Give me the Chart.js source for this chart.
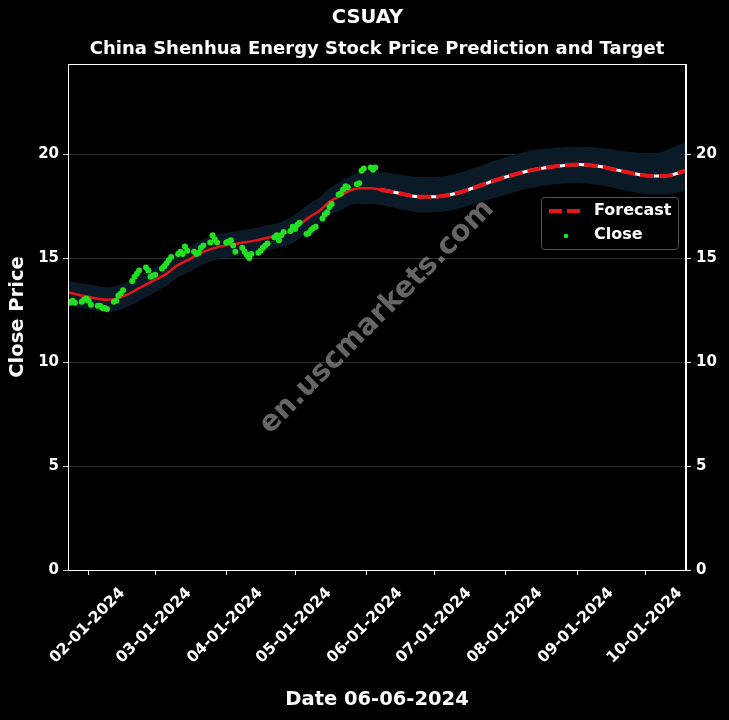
<!DOCTYPE html>
<html>
<head>
<meta charset="utf-8">
<title>CSUAY</title>
<script src="https://cdn.jsdelivr.net/npm/chart.js@4.4.1/dist/chart.umd.min.js"></script>
<style>
  body { margin: 0; background: #000; }
  #wrap { width: 729px; height: 720px; }
</style>
</head>
<body>
<div id="wrap"><canvas id="chart"></canvas></div>
<script>
// x values are day numbers counted from 01-01-2024 (= day 0)
const closeDays = [22, 23, 24, 25, 28, 29, 30, 31, 32, 35, 36, 37, 38, 39, 42, 43, 44, 45, 46, 50, 51, 52, 53,
    56, 57, 58, 59, 60, 63, 64, 65, 66, 67, 70, 71, 72, 73, 74, 77, 78, 79, 80, 81, 84, 85, 86, 87,
    91, 92, 93, 94, 95, 98, 99, 100, 101, 102, 105, 106, 107, 108, 109, 112, 113, 114, 115, 116,
    119, 120, 121, 122, 123, 126, 127, 128, 129, 130, 133, 134, 135, 136, 137, 140, 141, 142, 143, 144,
    148, 149, 150, 151, 154, 155, 156];
const closePrices = [12.9, 12.85, 12.95, 12.85, 12.9, 13.0, 13.05, 12.95, 12.75, 12.7, 12.7, 12.6, 12.6, 12.55,
    12.9, 12.95, 13.2, 13.3, 13.45, 13.9, 14.1, 14.25, 14.4,
    14.55, 14.4, 14.1, 14.15, 14.2, 14.5, 14.6, 14.75, 14.9, 15.05, 15.2, 15.3, 15.2, 15.55, 15.35,
    15.3, 15.2, 15.25, 15.5, 15.6, 15.75, 16.1, 15.9, 15.75,
    15.75, 15.8, 15.85, 15.6, 15.3, 15.5, 15.3, 15.15, 15.0, 15.2, 15.25, 15.35, 15.5, 15.6, 15.7,
    16.0, 16.1, 15.85, 16.1, 16.25,
    16.3, 16.5, 16.4, 16.6, 16.7, 16.15, 16.2, 16.35, 16.45, 16.5, 16.9, 17.1, 17.2, 17.45, 17.6,
    18.05, 18.1, 18.3, 18.45, 18.4,
    18.55, 18.6, 19.2, 19.3, 19.35, 19.25, 19.35];

const forecastDays = [22, 30, 39, 43, 47, 53, 59, 65, 69, 75, 81, 88, 96, 104, 110, 114, 119, 123, 127, 132,
    136, 141, 145, 149, 154, 158, 167, 175, 182, 191, 202, 210, 223, 234, 245, 254, 267, 276, 282, 291.5];
const forecastValues = [13.35, 13.15, 13.0, 13.05, 13.2, 13.55, 13.9, 14.25, 14.6, 14.95, 15.3, 15.55, 15.7,
    15.85, 16.0, 16.1, 16.3, 16.6, 16.95, 17.3, 17.7, 18.0, 18.25, 18.35, 18.35, 18.3, 18.1, 17.95, 17.95,
    18.1, 18.5, 18.8, 19.2, 19.4, 19.5, 19.4, 19.1, 18.95, 18.95, 19.2];
const bandUpper = [13.9, 13.75, 13.6, 13.65, 13.8, 14.15, 14.5, 14.85, 15.2, 15.55, 15.9, 16.15, 16.3,
    16.45, 16.6, 16.7, 16.95, 17.25, 17.6, 17.95, 18.35, 18.7, 18.95, 19.1, 19.15, 19.15, 19.0, 18.9, 18.9,
    19.05, 19.45, 19.75, 20.15, 20.3, 20.35, 20.3, 20.1, 20.05, 20.15, 20.6];
const bandLower = [12.75, 12.55, 12.4, 12.45, 12.6, 12.95, 13.3, 13.65, 14.0, 14.35, 14.7, 14.95, 15.1,
    15.25, 15.4, 15.5, 15.65, 15.95, 16.3, 16.65, 17.05, 17.3, 17.55, 17.6, 17.6, 17.55, 17.35, 17.2, 17.2,
    17.35, 17.7, 17.95, 18.35, 18.55, 18.6, 18.5, 18.2, 18.05, 18.05, 18.25];
const forecastStart = 158;

const xTickDays = [31, 60, 91, 121, 152, 182, 213, 244, 274];
const xTickLabels = ['02-01-2024', '03-01-2024', '04-01-2024', '05-01-2024', '06-01-2024',
    '07-01-2024', '08-01-2024', '09-01-2024', '10-01-2024'];
const yTicks = [0, 5, 10, 15, 20];

const subtitleText = 'China Shenhua Energy Stock Price Prediction and Target';
const fontFamily = "'DejaVu Sans', sans-serif";

function toPoints(xs, ys) {
    return xs.map((x, i) => ({ x: x, y: ys[i] }));
}

const frameAndExtras = {
    id: 'frameAndExtras',
    afterLayout(chart) {
        // centre the subtitle over the plot area, not the whole canvas
        const a = chart.chartArea;
        chart.boxes.forEach(b => {
            if (b.options && b.options.text === subtitleText) {
                b.left = a.left;
                b.right = a.right;
                b.width = a.right - a.left;
            }
        });
    },
    afterDatasetsDraw(chart) {
        const ctx = chart.ctx;
        const a = chart.chartArea;
        // watermark
        ctx.save();
        ctx.translate((a.left + a.right) / 2, (a.top + a.bottom) / 2);
        ctx.rotate(-Math.PI / 4);
        ctx.font = 'bold 29px ' + fontFamily;
        ctx.fillStyle = 'rgba(170,170,170,0.6)';
        ctx.textAlign = 'center';
        ctx.textBaseline = 'middle';
        ctx.fillText('en.uscmarkets.com', 0, 0);
        ctx.restore();
    },
    afterDraw(chart) {
        const ctx = chart.ctx;
        const a = chart.chartArea;
        ctx.save();
        ctx.strokeStyle = '#fff';
        ctx.lineWidth = 1;
        ctx.strokeRect(a.left + 0.5, a.top + 0.5, a.right - a.left - 1, a.bottom - a.top);

        // legend box
        const lx = 541, ly = 197, lw = 137, lh = 52;
        ctx.beginPath();
        ctx.roundRect(lx + 0.5, ly + 0.5, lw, lh, 3);
        ctx.fillStyle = 'rgba(0,0,0,0.8)';
        ctx.fill();
        ctx.strokeStyle = '#555';
        ctx.stroke();

        ctx.beginPath();
        ctx.setLineDash([13, 5]);
        ctx.strokeStyle = '#e8141a';
        ctx.lineWidth = 4;
        ctx.moveTo(549, 211);
        ctx.lineTo(585, 211);
        ctx.stroke();
        ctx.setLineDash([]);

        ctx.beginPath();
        ctx.arc(566, 236, 2.3, 0, Math.PI * 2);
        ctx.fillStyle = '#22e022';
        ctx.fill();

        ctx.font = 'bold 16px ' + fontFamily;
        ctx.fillStyle = '#fff';
        ctx.textBaseline = 'middle';
        ctx.textAlign = 'left';
        ctx.fillText('Forecast', 594, 211);
        ctx.fillText('Close', 594, 235);
        ctx.restore();
    }
};

new Chart(document.getElementById('chart'), {
    type: 'line',
    data: {
        datasets: [
            {
                label: 'Close',
                data: toPoints(closeDays, closePrices),
                showLine: false,
                pointRadius: 3,
                pointBackgroundColor: '#22e022',
                pointBorderWidth: 0
            },
            {
                label: 'Forecast',
                data: toPoints(forecastDays, forecastValues),
                borderColor: '#e8141a',
                borderWidth: 3.5,
                pointRadius: 0,
                cubicInterpolationMode: 'monotone',
                segment: {
                    borderDash: c => c.p0.parsed.x >= forecastStart ? [14, 5] : undefined,
                    borderWidth: c => c.p0.parsed.x >= forecastStart ? 4 : 2.5
                }
            },
            {
                label: 'underlay',
                data: toPoints(forecastDays, forecastValues),
                borderColor: '#fff',
                borderWidth: 3,
                pointRadius: 0,
                cubicInterpolationMode: 'monotone',
                segment: {
                    borderColor: c => c.p0.parsed.x >= forecastStart ? '#fff' : 'rgba(0,0,0,0)'
                }
            },
            {
                label: 'upper',
                data: toPoints(forecastDays, bandUpper),
                borderWidth: 0,
                pointRadius: 0,
                cubicInterpolationMode: 'monotone',
                backgroundColor: '#0a1b27',
                fill: '+1'
            },
            {
                label: 'lower',
                data: toPoints(forecastDays, bandLower),
                borderWidth: 0,
                pointRadius: 0,
                cubicInterpolationMode: 'monotone',
                fill: false
            }
        ]
    },
    options: {
        responsive: true,
        maintainAspectRatio: false,
        animation: false,
        layout: { padding: { left: 6, bottom: 8, right: 0, top: 0 } },
        plugins: {
            legend: { display: false },
            tooltip: { enabled: false },
            title: {
                display: true,
                text: 'CSUAY',
                color: '#fff',
                font: { family: fontFamily, size: 19.5, weight: 'bold' },
                padding: { top: 6.3, bottom: 2 }
            },
            subtitle: {
                display: true,
                text: subtitleText,
                color: '#fff',
                font: { family: fontFamily, size: 18, weight: 'bold' },
                padding: { top: 6.5, bottom: 4.2 }
            }
        },
        scales: {
            x: {
                type: 'linear',
                min: 22,
                max: 291.5,
                afterBuildTicks: s => { s.ticks = xTickDays.map(v => ({ value: v })); },
                afterFit: s => { s.height = 142; },
                ticks: {
                    color: '#fff',
                    font: { family: fontFamily, size: 15.5, weight: 'bold' },
                    minRotation: 45,
                    maxRotation: 45,
                    labelOffset: 34,
                    padding: 9,
                    autoSkip: false,
                    callback: v => xTickLabels[xTickDays.indexOf(v)]
                },
                grid: { drawOnChartArea: false, color: '#fff', tickColor: '#fff', tickLength: 5 },
                border: { color: '#fff' },
                title: {
                    display: true,
                    text: 'Date 06-06-2024',
                    color: '#fff',
                    font: { family: fontFamily, size: 19.5, weight: 'bold' },
                    padding: 0
                }
            },
            y: {
                position: 'left',
                min: 0,
                max: 24.33,
                afterBuildTicks: s => { s.ticks = yTicks.map(v => ({ value: v })); },
                afterFit: s => { s.width = 62; },
                ticks: {
                    color: '#fff',
                    font: { family: fontFamily, size: 15, weight: 'bold' },
                    padding: 4
                },
                grid: { color: '#3c3c3c', lineWidth: 0.8, tickColor: '#fff', tickLength: 5 },
                border: { color: '#fff' },
                title: {
                    display: true,
                    text: 'Close Price',
                    color: '#fff',
                    font: { family: fontFamily, size: 19.5, weight: 'bold' },
                    padding: 0
                }
            },
            y2: {
                position: 'right',
                min: 0,
                max: 24.33,
                afterBuildTicks: s => { s.ticks = yTicks.map(v => ({ value: v })); },
                afterFit: s => { s.width = 43; },
                ticks: {
                    color: '#fff',
                    font: { family: fontFamily, size: 15, weight: 'bold' },
                    padding: 5
                },
                grid: { drawOnChartArea: false, tickColor: '#fff', tickLength: 5 },
                border: { color: '#fff' }
            }
        }
    },
    plugins: [frameAndExtras]
});
</script>
</body>
</html>
